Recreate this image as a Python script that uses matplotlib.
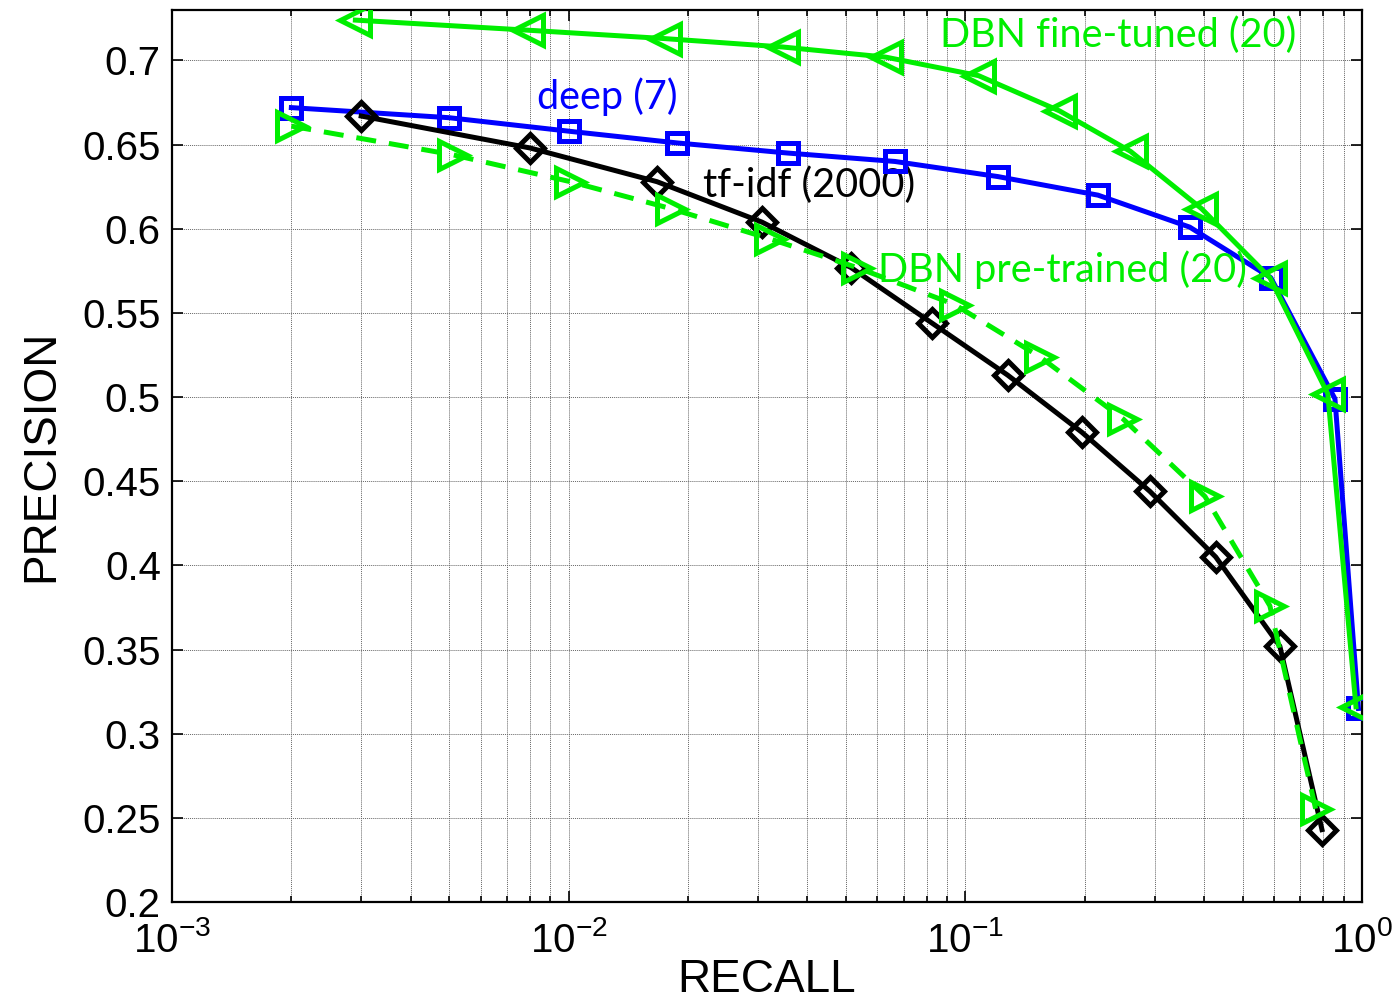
"""Precision-recall curves: deep autoencoder vs DBN vs tf-idf"""

import matplotlib
matplotlib.use("Agg")
import matplotlib.pyplot as plt
from matplotlib.ticker import LogLocator, FixedLocator

# section: data
recall_deep = [0.002, 0.005, 0.01, 0.0188, 0.0357, 0.0665, 0.121, 0.216, 0.368, 0.589, 0.855, 0.98]
precision_deep = [0.672, 0.666, 0.658, 0.651, 0.645, 0.640, 0.631, 0.620, 0.601, 0.571, 0.499, 0.315]

recall_tfidf = [0.003, 0.008, 0.0167, 0.0307, 0.0515, 0.0824, 0.128, 0.197, 0.292, 0.428, 0.621, 0.793]
precision_tfidf = [0.667, 0.648, 0.628, 0.604, 0.577, 0.544, 0.513, 0.479, 0.444, 0.405, 0.352, 0.243]

recall_pre = [0.002, 0.0051, 0.0101, 0.0181, 0.0322, 0.0533, 0.094, 0.154, 0.250, 0.402, 0.586, 0.765]
precision_pre = [0.661, 0.644, 0.628, 0.612, 0.594, 0.577, 0.555, 0.524, 0.487, 0.441, 0.376, 0.255]

recall_fine = [0.0029, 0.0079, 0.0175, 0.0347, 0.063, 0.108, 0.173, 0.261, 0.394, 0.586, 0.82, 0.966]
precision_fine = [0.724, 0.718, 0.713, 0.708, 0.702, 0.691, 0.670, 0.646, 0.612, 0.571, 0.502, 0.316]

y_ticks = [0.2, 0.25, 0.3, 0.35, 0.4, 0.45, 0.5, 0.55, 0.6, 0.65, 0.7]
y_tick_labels = ["0.2", "0.25", "0.3", "0.35", "0.4", "0.45", "0.5", "0.55", "0.6", "0.65", "0.7"]

GREEN = "#00ee00"
BLUE = "#0000ff"


def main():
    plt.rcParams["font.family"] = ["Liberation Sans", "DejaVu Sans"]
    plt.rcParams["mathtext.fontset"] = "custom"
    plt.rcParams["mathtext.rm"] = "Liberation Sans"

    fig = plt.figure(figsize=(13.98, 10), dpi=100)
    ax = fig.add_axes([0.123, 0.098, 0.8512, 0.892])

    # section: curves
    lw = 3.6
    ax.plot(recall_deep, precision_deep, color=BLUE, lw=lw, marker="s", ms=15,
            mfc="none", mec=BLUE, mew=3.6, zorder=3)
    ax.plot(recall_tfidf, precision_tfidf, color="black", lw=lw, marker="D", ms=14,
            mfc="none", mec="black", mew=3.6, zorder=3)
    ax.plot(recall_pre, precision_pre, color=GREEN, lw=lw, ls=(0, (4, 2.6)), marker=">",
            ms=20, mfc="none", mec=GREEN, mew=3.6, zorder=4)
    ax.plot(recall_fine, precision_fine, color=GREEN, lw=lw, marker="<", ms=21,
            mfc="none", mec=GREEN, mew=3.6, zorder=4)

    # section: in-plot labels
    lab_font = ["Lato", "DejaVu Sans"]
    ax.text(0.0863, 0.7083, "DBN fine-tuned (20)", color=GREEN, fontsize=28.5,
            family=lab_font, ha="left", va="baseline", zorder=5)
    ax.text(0.00832, 0.6709, "deep (7)", color=BLUE, fontsize=28.5,
            family=lab_font, ha="left", va="baseline", zorder=5)
    ax.text(0.0218, 0.6187, "tf-idf (2000)", color="black", fontsize=28.5,
            family=lab_font, ha="left", va="baseline", zorder=2)
    ax.text(0.0603, 0.5682, "DBN pre-trained (20)", color=GREEN, fontsize=28.5,
            family=lab_font, ha="left", va="baseline", zorder=5)

    # section: axes
    ax.set_xscale("log")
    ax.set_xlim(1e-3, 1)
    ax.set_ylim(0.2, 0.73)
    ax.xaxis.set_major_locator(LogLocator(base=10, numticks=10))
    ax.xaxis.set_minor_locator(LogLocator(base=10, subs=range(2, 10), numticks=20))
    ax.yaxis.set_major_locator(FixedLocator(y_ticks))
    ax.set_yticklabels(y_tick_labels)

    ax.grid(True, which="major", color="0.4", lw=0.7, ls=(0, (1, 1)))
    ax.grid(True, which="minor", axis="x", color="0.4", lw=0.7, ls=(0, (1, 1)))

    ax.tick_params(which="both", direction="in", top=True, right=True, width=1.2)
    ax.tick_params(which="major", length=8, labelsize=29)
    ax.tick_params(axis="y", which="major", pad=8)
    ax.tick_params(axis="x", which="major", pad=14)
    ax.tick_params(which="minor", length=4)
    for s in ax.spines.values():
        s.set_linewidth(1.6)

    ax.set_xlabel("RECALL", fontsize=33, labelpad=-2)
    ax.set_ylabel("PRECISION", fontsize=33, labelpad=14)

    fig.savefig("out.png", dpi=100)
    plt.close(fig)


if __name__ == "__main__":
    main()
